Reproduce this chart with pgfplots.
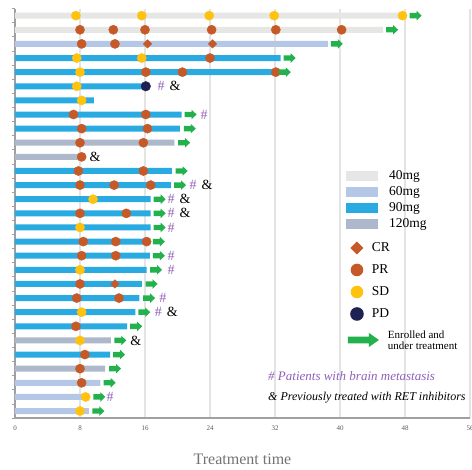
\documentclass[border=0pt]{standalone}
\usepackage{pgfplots}
\pgfplotsset{compat=1.18}
\usepackage{fontspec}
\setmainfont{Liberation Serif}
\definecolor{c40}{RGB}{230,230,228}
\definecolor{c60}{RGB}{180,199,231}
\definecolor{c90}{RGB}{41,171,226}
\definecolor{c120}{RGB}{173,185,202}
\definecolor{cPR}{RGB}{197,90,40}
\definecolor{cSD}{RGB}{255,194,14}
\definecolor{cPD}{RGB}{30,34,82}
\definecolor{cArrow}{RGB}{34,177,76}
\definecolor{cHash}{RGB}{145,95,185}
\definecolor{cAxis}{RGB}{160,160,160}
\definecolor{cGrid}{RGB}{228,228,228}
\pgfdeclareplotmark{garrow}{%
  \pgfpathmoveto{\pgfqpoint{3pt}{-2.7pt}}%
  \pgfpathlineto{\pgfqpoint{10pt}{-2.7pt}}%
  \pgfpathlineto{\pgfqpoint{10pt}{-4.8pt}}%
  \pgfpathlineto{\pgfqpoint{15pt}{0pt}}%
  \pgfpathlineto{\pgfqpoint{10pt}{4.8pt}}%
  \pgfpathlineto{\pgfqpoint{10pt}{2.7pt}}%
  \pgfpathlineto{\pgfqpoint{3pt}{2.7pt}}%
  \pgfpathclose
  \pgfusepathqfill
}
\pgfplotsset{
  common/.style={
    at={(0pt,0pt)}, anchor=south west, scale only axis,
    width=455pt, height=409.5pt,
    xmin=0, xmax=56, ymin=0.5, ymax=29.5,
  },
}
\newcommand{\bbox}[2]{\path[draw=none,fill=none] (0pt,-6pt) rectangle (#1,#2);}
\begin{document}
\begin{tikzpicture}
\begin{axis}[
  common, clip=false,
  axis lines=left, axis line style={-, draw=cAxis, line width=1.3pt},
  xtick={0,8,...,56}, ytick={0.5,1.5,...,29.5}, yticklabels={},
  tick align=outside, major tick length=3pt,
  xtick style={draw=none},
  ytick style={draw=cAxis, line width=0.8pt},
  xmajorgrids, grid style={cGrid, line width=1.2pt},
  /pgf/number format/assume math mode=true,
  xticklabel style={font=\fontsize{7}{7}\selectfont, text=black!65, anchor=center, yshift=-7.5pt},
  xlabel={Treatment time},
  x label style={at={(axis description cs:0.5,0)}, anchor=center, yshift=-41pt,
    font=\fontsize{16}{16}\selectfont, text=black!55},
  legend cell align=left,
  legend style={draw=none, fill=none, at={(axis description cs:0.7275,0.6066)}, anchor=north west,
    inner sep=0pt, outer sep=0pt, row sep=3.5pt, column sep=0pt,
    nodes={inner sep=0pt, outer sep=0pt, text height=9.5pt, text depth=3pt,
      font=\fontsize{13.5}{14}\selectfont}},
]
% bars: (end of treatment, patient row)
\addplot[xbar, bar width=6pt, bar shift=0pt, draw=none, fill=c40, forget plot]
  coordinates {(48.0,29) (45.3,28)};
\addplot[xbar, bar width=6pt, bar shift=0pt, draw=none, fill=c60, forget plot]
  coordinates {(38.5,27) (10.5,3) (9.1,2) (9.1,1)};
\addplot[xbar, bar width=6pt, bar shift=0pt, draw=none, fill=c90, forget plot]
  coordinates {(32.7,26) (32.0,25) (15.8,24) (9.7,23) (20.5,22) (20.3,21) (19.3,18)
    (19.2,17) (16.7,16) (16.7,15) (16.7,14) (16.6,13) (16.6,12) (16.2,11) (15.6,10)
    (15.3,9) (14.8,8) (13.8,7) (11.7,5)};
\addplot[xbar, bar width=6pt, bar shift=0pt, draw=none, fill=c120, forget plot]
  coordinates {(19.6,20) (8.6,19) (11.8,6) (11.1,4)};
% responses
\addplot[only marks, mark=*, mark size=4.6pt, color=cPR, forget plot] coordinates {
  (8.0,28) (12.1,28) (16.0,28) (24.2,28) (32.1,28) (40.2,28)
  (8.2,27) (12.3,27) (24.0,26) (16.1,25) (20.6,25) (32.1,25)
  (7.2,22) (16.1,22) (8.2,21) (16.3,21) (8.0,20) (15.8,20) (8.2,19)
  (7.8,18) (15.8,18) (8.0,17) (12.2,17) (16.7,17) (8.0,15) (13.7,15)
  (8.4,13) (12.4,13) (16.2,13) (8.2,12) (12.4,12) (8.0,10) (7.6,9) (12.8,9)
  (7.5,7) (8.6,5) (8.0,4) (8.2,3)};
\addplot[only marks, mark=square*, mark size=3pt, mark options={rotate=45}, color=cPR, forget plot]
  coordinates {(16.3,27) (24.3,27) (12.3,10)};
\addplot[only marks, mark=*, mark size=4.6pt, color=cSD, forget plot] coordinates {
  (7.5,29) (15.6,29) (23.9,29) (31.9,29) (47.7,29) (7.6,26) (15.6,26) (8.0,25)
  (7.6,24) (8.2,23) (9.6,16) (8.0,14) (8.0,11) (8.2,8) (8.0,6) (8.7,2) (8.0,1)};
\addplot[only marks, mark=*, mark size=4.8pt, color=cPD, forget plot] coordinates {(16.1,24)};
% enrolled and under treatment
\addplot[only marks, mark=garrow, color=cArrow, forget plot] coordinates {
  (48.2,29) (45.3,28) (38.5,27) (32.7,26) (32.1,25) (20.5,22) (20.4,21) (19.7,20)
  (19.4,18) (19.2,17) (16.7,16) (16.7,15) (16.7,14) (16.6,13) (16.6,12) (16.25,11)
  (15.7,10) (15.4,9) (14.8,8) (13.8,7) (11.85,6) (11.7,5) (11.2,4) (10.55,3)
  (9.27,2) (9.15,1)};
% annotations
\tikzset{hs/.style={anchor=west, inner sep=0pt, font=\fontsize{14}{14}\selectfont}}
\newcommand{\HA}{{\color{cHash}\#}\hspace{5pt}\&}
\newcommand{\HH}{{\color{cHash}\#}}
\node[hs] at (axis cs:17.54,24) {\HA};
\node[hs] at (axis cs:22.83,22) {\HH};
\node[hs] at (axis cs:9.17,19) {\&};
\node[hs] at (axis cs:21.48,17) {\HA};
\node[hs] at (axis cs:18.77,16) {\HA};
\node[hs] at (axis cs:18.77,15) {\HA};
\node[hs] at (axis cs:18.77,14) {\HH};
\node[hs] at (axis cs:18.77,12) {\HH};
\node[hs] at (axis cs:18.77,11) {\HH};
\node[hs] at (axis cs:17.74,9) {\HH};
\node[hs] at (axis cs:17.2,8) {\HA};
\node[hs] at (axis cs:14.18,6) {\&};
\node[hs] at (axis cs:11.26,2) {\HH};
\node[anchor=west, inner sep=0pt, text=cHash, font=\fontsize{13}{13}\selectfont\itshape]
  at (axis cs:31.14,3.48) {\# Patients with brain metastasis};
\node[anchor=west, inner sep=0pt, font=\fontsize{12}{12}\selectfont\itshape]
  at (axis cs:31.14,1.93) {\& Previously treated with RET inhibitors};
% dose legend
\addlegendimage{legend image code/.code={\bbox{43pt}{6pt}\fill[c40,draw=none] (0pt,-5pt) rectangle (32pt,5pt);}}
\addlegendentry{40mg}
\addlegendimage{legend image code/.code={\bbox{43pt}{6pt}\fill[c60,draw=none] (0pt,-5pt) rectangle (32pt,5pt);}}
\addlegendentry{60mg}
\addlegendimage{legend image code/.code={\bbox{43pt}{6pt}\fill[c90,draw=none] (0pt,-5pt) rectangle (32pt,5pt);}}
\addlegendentry{90mg}
\addlegendimage{legend image code/.code={\bbox{43pt}{6pt}\fill[c120,draw=none] (0pt,-5pt) rectangle (32pt,5pt);}}
\addlegendentry{120mg}
\end{axis}
\begin{axis}[
  common, hide axis,
  legend cell align=left,
  legend style={draw=none, fill=none, at={(axis description cs:0.7318,0.4307)}, anchor=north west,
    inner sep=0pt, outer sep=0pt, row sep=9.5pt, column sep=0pt,
    nodes={inner sep=0pt, outer sep=0pt, text height=9.5pt, text depth=3pt,
      font=\fontsize{13.5}{14}\selectfont}},
]
\addlegendimage{legend image code/.code={\bbox{24pt}{6pt}\fill[cPR,draw=none,overlay] (9pt,6.5pt) -- (15.5pt,0pt) -- (9pt,-6.5pt) -- (2.5pt,0pt) -- cycle;}}
\addlegendentry{CR}
\addlegendimage{legend image code/.code={\bbox{24pt}{6pt}\fill[cPR,draw=none,overlay] (9pt,0pt) circle (6.3pt);}}
\addlegendentry{PR}
\addlegendimage{legend image code/.code={\bbox{24pt}{6pt}\fill[cSD,draw=none,overlay] (9pt,0pt) circle (6.3pt);}}
\addlegendentry{SD}
\addlegendimage{legend image code/.code={\bbox{24pt}{6pt}\fill[cPD,draw=none,overlay] (9pt,0pt) circle (6.8pt);}}
\addlegendentry{PD}
\addlegendimage{legend image code/.code={\bbox{24pt}{10.25pt}\fill[cArrow,draw=none,overlay] (0pt,-3.3pt) -- (21pt,-3.3pt) -- (21pt,-7pt) -- (31pt,0pt) -- (21pt,7pt) -- (21pt,3.3pt) -- (0pt,3.3pt) -- cycle;}}
\addlegendentry{\raisebox{-6.5pt}[0pt][0pt]{\hspace*{16pt}\fontsize{11}{11}\selectfont\shortstack[l]{Enrolled and\\under treatment}}}
\end{axis}
\pgfresetboundingbox
\path[use as bounding box] (-15pt,-51pt) rectangle (457pt,418.1pt);
\end{tikzpicture}
\end{document}
